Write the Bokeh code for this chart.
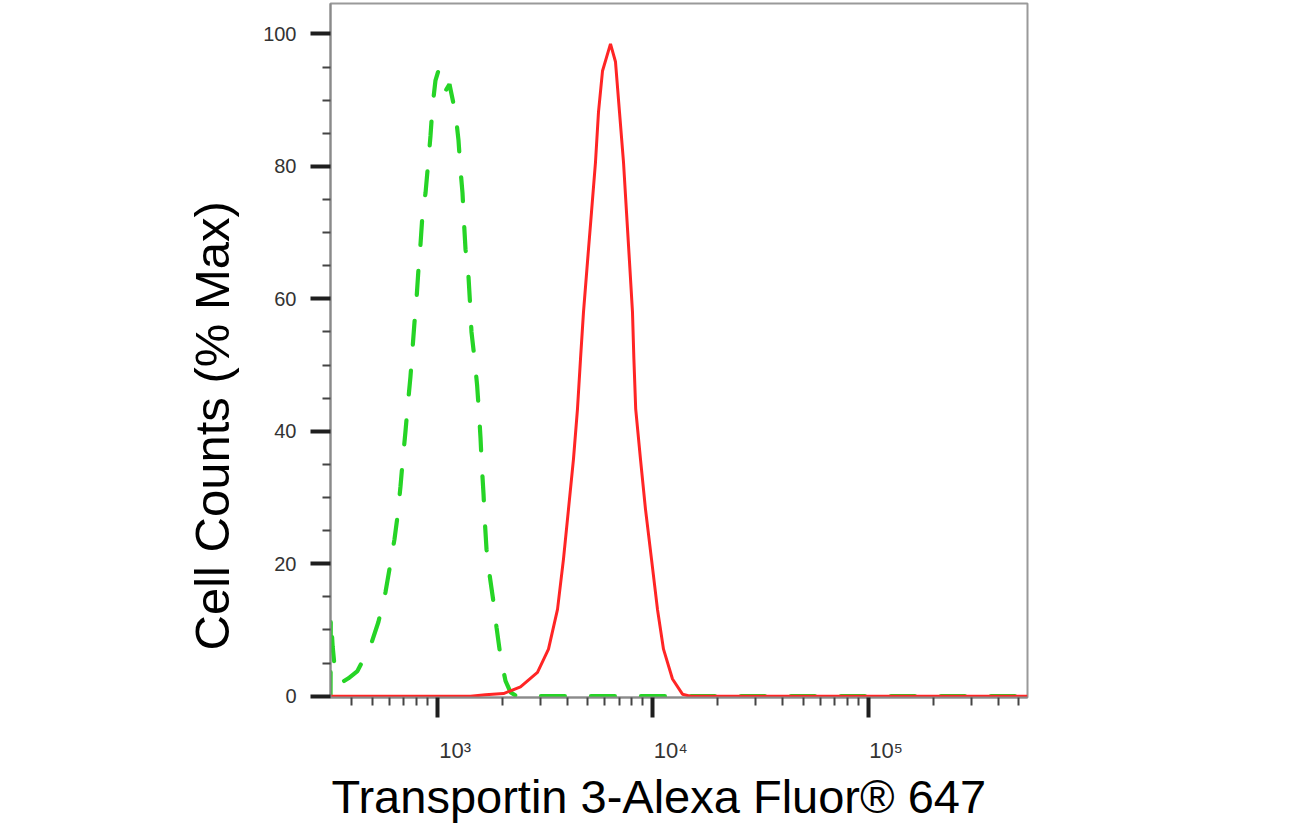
import math
from bokeh.plotting import figure
from bokeh.models import Range1d, FixedTicker, LogAxis, Title
from bokeh.embed import file_html
from bokeh.resources import INLINE

# ---- data ----
X_MIN, X_MAX = 319.5, 548000
Y_MIN, Y_MAX = -0.2, 104.6

green_x = [319.6, 320.5, 327, 336, 350, 365, 387, 426, 490, 533, 575, 600, 633, 654,
           675, 690, 712, 727, 751, 784, 801, 818, 836, 854, 882, 910, 930, 950, 981,
           1013, 1057, 1091, 1139, 1215, 1254, 1281, 1309, 1330, 1352, 1396, 1418, 1441,
           1488, 1530, 1560, 1587, 1608, 1639, 1660, 1692, 1747, 1823, 1883, 1965, 2073,
           2186, 2331, 548000]
green_y = [0, 12, 7.5, 3.5, 2.3, 2.2, 2.7, 3.8, 7.6, 11.2, 15.7, 19.2, 23.7, 27.2,
           31.7, 35.3, 40, 43.4, 48.3, 56.5, 60, 64.5, 68.3, 72.8, 76, 81, 84.6, 89, 93,
           94.5, 94, 91.4, 92.4, 88, 84, 79.6, 76, 71.6, 67.5, 63.3, 59.5, 55,
           51, 47, 43, 39, 35, 30.5, 26.7, 22.2, 18.4, 14.2, 10.4, 6, 2.3,
           0.6, 0, 0]

red_x = [319.6, 1426, 1674, 2029, 2433, 2917, 3281, 3613, 3851, 4062, 4285, 4473, 4619,
         4769, 4977, 5195, 5423, 5598, 5843, 6364, 6713, 7007, 7311, 7551, 7797, 8050,
         8170, 8330, 8767, 9251, 9863, 10515, 11212, 12342, 13733, 14962, 548000]
red_y = [0, 0, 0.2, 0.4, 1.4, 3.6, 7.1, 13.1, 20.7, 28.2, 35.8, 43.4, 50.9,
         58, 65.6, 73.1, 80.7, 88.2, 94.4, 98.5, 95.8, 88.2, 80.7, 73.1, 65.6, 58,
         51, 43.4, 35.8, 28.2, 20.7, 13.1, 7.1, 2.6, 0.3, 0, 0]

x_major = [1e3, 1e4, 1e5]
x_major_labels = ["10\u00b3", "10\u2074", "10\u2075"]
x_minor = [300, 400, 500, 600, 700, 800, 900,
           2000, 3000, 4000, 5000, 6000, 7000, 8000, 9000,
           20000, 30000, 40000, 50000, 60000, 70000, 80000, 90000,
           200000, 300000, 400000, 500000]
y_major = [0, 20, 40, 60, 80, 100]
y_minor = [5, 10, 15, 25, 30, 35, 45, 50, 55, 65, 70, 75, 85, 90, 95]

x_title = "Transportin 3-Alexa Fluor\u00ae 647"
y_title = "Cell Counts (% Max)"

FONT = "Liberation Sans"
GREEN = "#26d426"
RED = "#ff2525"
LABEL_SHIFT = 1.21   # tick labels sit just right of their tick

p = figure(width=1290, height=830, x_axis_type="log",
           x_range=Range1d(X_MIN, X_MAX), y_range=Range1d(Y_MIN, Y_MAX),
           output_backend="svg", toolbar_location=None,
           min_border_left=330, min_border_right=263,
           min_border_top=3, min_border_bottom=133)
p.background_fill_color = "white"
p.border_fill_color = "white"
p.outline_line_color = "#9a9a9a"
p.outline_line_width = 2
p.grid.visible = False

p.line(green_x, green_y, line_color=GREEN, line_width=4.2, line_dash="24 26",
       line_cap="round")
p.line(red_x, red_y, line_color=RED, line_width=3)

# x axis (tick marks)
xa = p.xaxis[0]
xa.ticker = FixedTicker(ticks=x_major, minor_ticks=x_minor)
xa.axis_line_color = "#8a8a8a"
xa.axis_line_width = 2
xa.major_tick_line_color = "#1e1e1e"
xa.major_tick_line_width = 4
xa.major_tick_out = 20
xa.major_tick_in = 0
xa.minor_tick_line_color = "#444444"
xa.minor_tick_line_width = 2
xa.minor_tick_out = 8
xa.minor_tick_in = 0
xa.major_label_text_font_size = "6px"
xa.major_label_text_alpha = 0
xa.major_label_standoff = 0

# x axis (tick labels, set just right of each tick)
label_pos = [round(v * LABEL_SHIFT) for v in x_major]
xl = LogAxis(ticker=FixedTicker(ticks=label_pos),
             major_label_overrides={k: t for k, t in zip(label_pos, x_major_labels)})
xl.axis_line_color = None
xl.major_tick_line_color = None
xl.minor_tick_line_color = None
xl.major_tick_out = 0
xl.minor_tick_out = 0
xl.major_label_standoff = 20
xl.major_label_text_font = FONT
xl.major_label_text_font_size = "22px"
xl.major_label_text_color = "#333333"
p.add_layout(xl, "below")

# y axis
ya = p.yaxis[0]
ya.ticker = FixedTicker(ticks=y_major, minor_ticks=y_minor)
ya.axis_line_color = "#8a8a8a"
ya.axis_line_width = 2
ya.major_tick_line_color = "#1e1e1e"
ya.major_tick_line_width = 4
ya.major_tick_out = 20
ya.major_tick_in = 0
ya.minor_tick_line_color = "#444444"
ya.minor_tick_line_width = 2
ya.minor_tick_out = 8
ya.minor_tick_in = 0
ya.major_label_text_font = FONT
ya.major_label_text_font_size = "20px"
ya.major_label_text_color = "#333333"
ya.major_label_standoff = 14

# axis titles
p.add_layout(Title(text=x_title, align="left", offset=1, standoff=4,
                   text_font=FONT, text_font_size="47px", text_font_style="normal",
                   text_color="black"), "below")
p.add_layout(Title(text=y_title, align="left", offset=47, standoff=44,
                   text_font=FONT, text_font_size="49px", text_font_style="normal",
                   text_color="black"), "left")

open("out.html", "w").write(file_html(p, INLINE))
